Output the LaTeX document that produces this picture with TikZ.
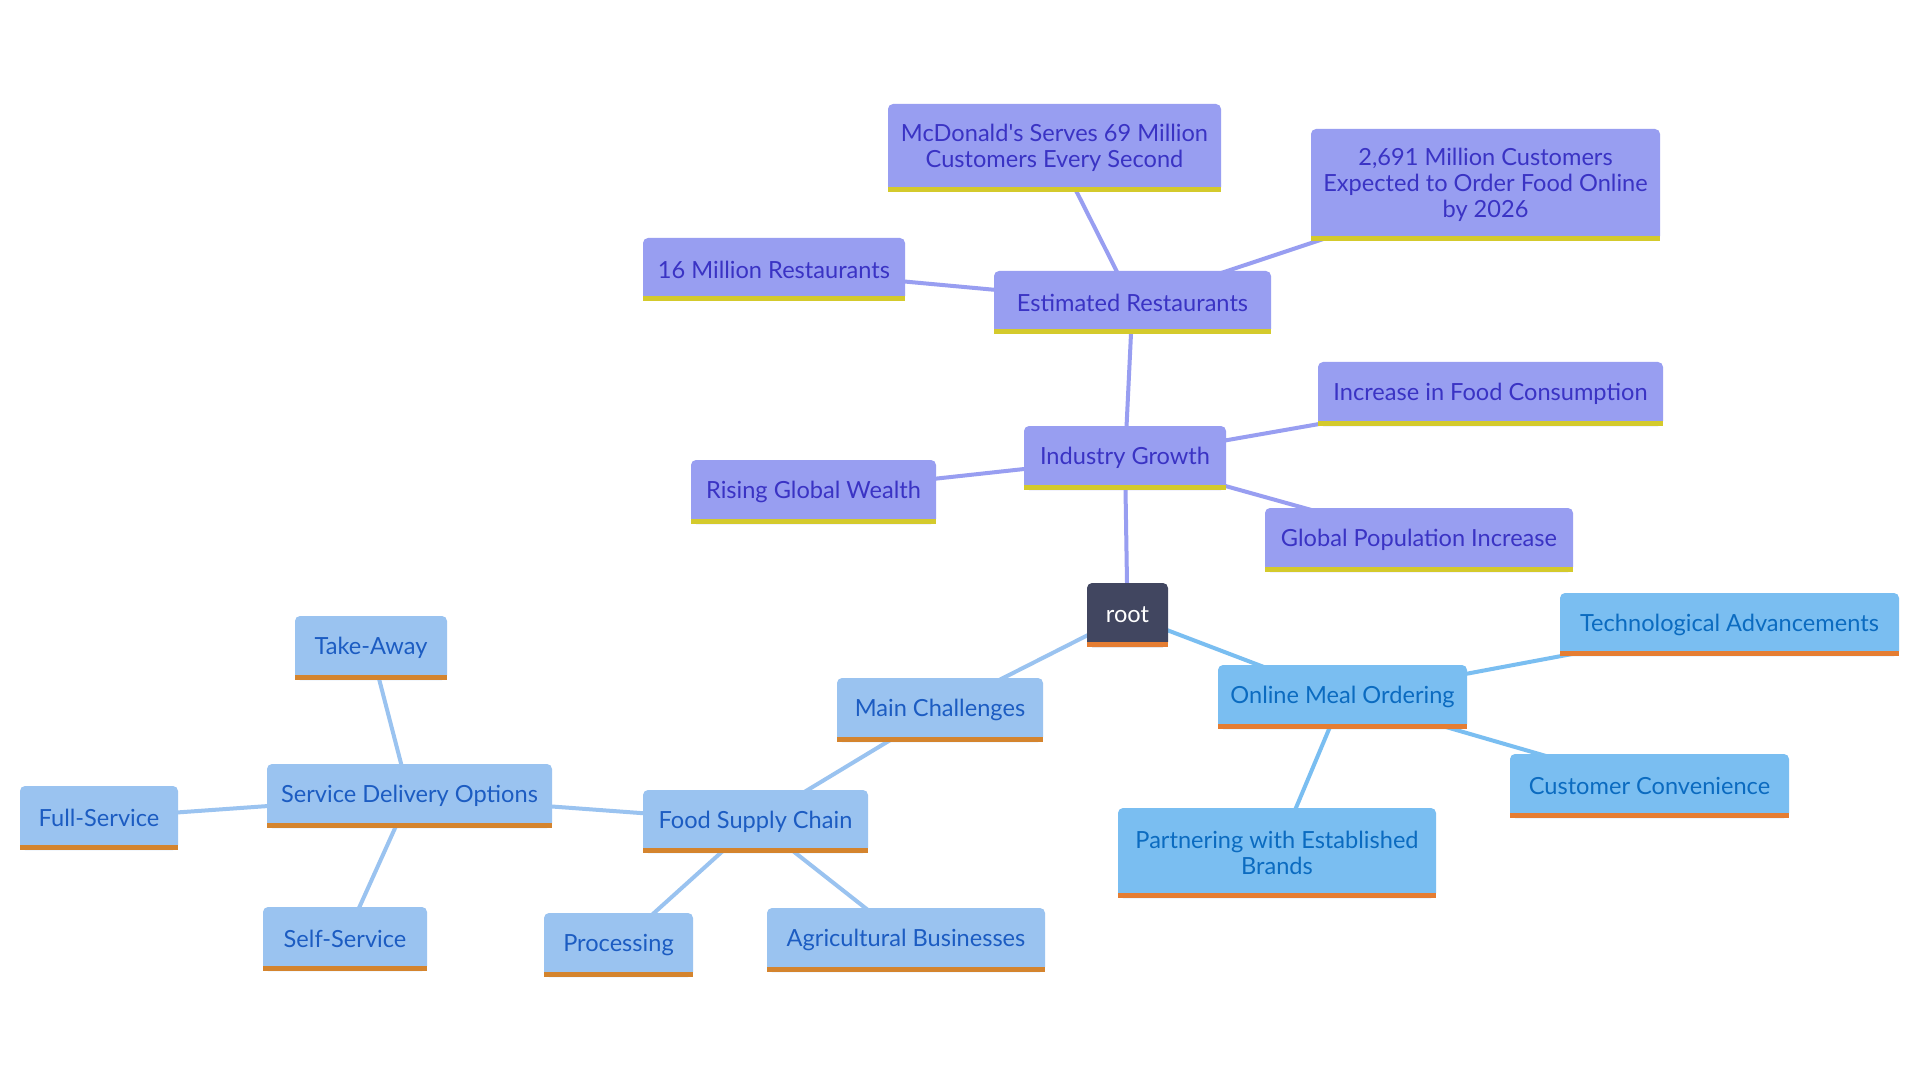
\documentclass[tikz,border=0pt]{standalone}
\usepackage{fontspec}
\setmainfont{Lato}
\usetikzlibrary{backgrounds}
\definecolor{pfill}{HTML}{989EF1}
\definecolor{ptext}{HTML}{3A33C4}
\definecolor{pbar}{HTML}{D4CA2C}
\definecolor{lfill}{HTML}{9AC3F0}
\definecolor{ltext}{HTML}{1C5CC2}
\definecolor{lbar}{HTML}{D4842E}
\definecolor{bfill}{HTML}{7ABEF1}
\definecolor{btext}{HTML}{0B6BC0}
\definecolor{bbar}{HTML}{E57D32}
\definecolor{rfill}{HTML}{414660}
\begin{document}
\begin{tikzpicture}[x=0.5pt,y=-0.5pt,
  base/.style={rounded corners=2.5pt, inner sep=0pt, align=center,
    font=\fontsize{11.8}{13}\selectfont},
  pnode/.style={base, fill=pfill, text=ptext},
  lnode/.style={base, fill=lfill, text=ltext},
  bnode/.style={base, fill=bfill, text=btext},
  rnode/.style={base, fill=rfill, text=white},
  pedge/.style={draw=pfill, line width=2pt},
  ledge/.style={draw=lfill, line width=2pt},
  bedge/.style={draw=bfill, line width=2pt}]
\useasboundingbox (0,0) rectangle (1920,1080);
% nodes
\node[rnode, minimum width=40.5pt, minimum height=32pt] (root) at (1127.5,615) {root};
\node[pnode, minimum width=101pt, minimum height=32pt] (ig) at (1125,458) {Industry Growth};
\node[pnode, minimum width=138.5pt, minimum height=31.5pt] (er) at (1132.5,302.5) {Estimated Restaurants};
\node[pnode, minimum width=166.5pt, minimum height=44pt] (mc) at (1054.5,148) {McDonald\textquotesingle s Serves 69 Million\\Customers Every Second};
\node[pnode, minimum width=174.5pt, minimum height=56pt] (c2691) at (1485.5,185) {2,691 Million Customers\\Expected to Order Food Online\\by 2026};
\node[pnode, minimum width=131pt, minimum height=31.5pt] (m16) at (774,269.5) {16 Million Restaurants};
\node[pnode, minimum width=172.5pt, minimum height=32pt] (ifc) at (1490.5,394) {Increase in Food Consumption};
\node[pnode, minimum width=122.5pt, minimum height=32pt] (rgw) at (813.5,492) {Rising Global Wealth};
\node[pnode, minimum width=154pt, minimum height=32pt] (gpi) at (1419,540) {Global Population Increase};
\node[bnode, minimum width=124.5pt, minimum height=32pt] (omo) at (1342.5,697) {Online Meal Ordering};
\node[bnode, minimum width=169.5pt, minimum height=31.5pt] (ta) at (1729.5,624.5) {Technological Advancements};
\node[bnode, minimum width=139.5pt, minimum height=32pt] (cc) at (1649.5,786) {Customer Convenience};
\node[bnode, minimum width=159pt, minimum height=45pt] (peb) at (1277,853) {Partnering with Established\\Brands};
\node[lnode, minimum width=103pt, minimum height=32pt] (mch) at (940,710) {Main Challenges};
\node[lnode, minimum width=112.5pt, minimum height=31.5pt] (fsc) at (755.5,821.5) {Food Supply Chain};
\node[lnode, minimum width=142.5pt, minimum height=32pt] (sdo) at (409.5,796) {Service Delivery Options};
\node[lnode, minimum width=76pt, minimum height=32pt] (tak) at (371,648) {Take-Away};
\node[lnode, minimum width=79pt, minimum height=32pt] (fs) at (99,818) {Full-Service};
\node[lnode, minimum width=82pt, minimum height=32pt] (ss) at (345,939) {Self-Service};
\node[lnode, minimum width=74.5pt, minimum height=32pt] (proc) at (618.5,945) {Processing};
\node[lnode, minimum width=139pt, minimum height=32pt] (ab) at (906,940) {Agricultural Businesses};
% bottom bars
\foreach \n/\c in {root/bbar, ig/pbar, er/pbar, mc/pbar, c2691/pbar, m16/pbar, ifc/pbar, rgw/pbar, gpi/pbar,
  omo/bbar, ta/bbar, cc/bbar, peb/bbar,
  mch/lbar, fsc/lbar, sdo/lbar, tak/lbar, fs/lbar, ss/lbar, proc/lbar, ab/lbar}
  \fill[\c] (\n.south west) rectangle ([yshift=2.5pt]\n.south east);
% edges
\begin{pgfonlayer}{background}
\fill[white] (0,0) rectangle (1920,1080);
\draw[pedge] (root.center) -- (ig.center);
\draw[pedge] (ig.center) -- (er.center);
\draw[pedge] (ig.center) -- (ifc.center);
\draw[pedge] (ig.center) -- (rgw.center);
\draw[pedge] (ig.center) -- (gpi.center);
\draw[pedge] (er.center) -- (mc.center);
\draw[pedge] (er.center) -- (c2691.center);
\draw[pedge] (er.center) -- (m16.center);
\draw[bedge] (root.center) -- (omo.center);
\draw[bedge] (omo.center) -- (ta.center);
\draw[bedge] (omo.center) -- (cc.center);
\draw[bedge] (omo.center) -- (peb.center);
\draw[ledge] (root.center) -- (mch.center);
\draw[ledge] (mch.center) -- (fsc.center);
\draw[ledge] (fsc.center) -- (sdo.center);
\draw[ledge] (fsc.center) -- (proc.center);
\draw[ledge] (fsc.center) -- (ab.center);
\draw[ledge] (sdo.center) -- (tak.center);
\draw[ledge] (sdo.center) -- (fs.center);
\draw[ledge] (sdo.center) -- (ss.center);
\end{pgfonlayer}
\end{tikzpicture}
\end{document}
